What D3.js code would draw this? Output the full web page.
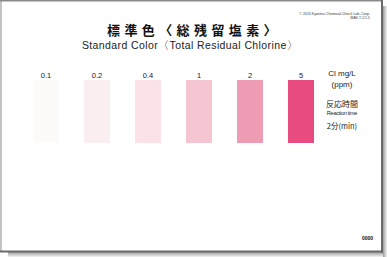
<!DOCTYPE html>
<html>
<head>
<meta charset="utf-8">
<script src="https://cdn.jsdelivr.net/npm/d3@7"></script>
<style>
  body { margin: 0; background: #fff; }
  svg { display: block; }
</style>
</head>
<body>
<svg id="chart" width="387" height="257"></svg>
<script>
// standard colour chart values
const levels = ['0.1', '0.2', '0.4', '1', '2', '5'];
const swatchColors = ['#fdfafa', '#fbeef1', '#fae2e8', '#f5c5d1', '#ee9cb4', '#e84b80'];
const unitLines = ['Cl mg/L', '(ppm)'];
const timeLines = ['反応時間', 'Reaction time', '2分(min)'];

const svg = d3.select('#chart');
const W = 387, H = 257;

// card shadow + border
const defs = svg.append('defs');
const gb = defs.append('linearGradient').attr('id', 'shB').attr('x1', 0).attr('y1', 0).attr('x2', 0).attr('y2', 1);
gb.append('stop').attr('offset', 0).attr('stop-color', '#9a9a9a');
gb.append('stop').attr('offset', 1).attr('stop-color', '#f4f4f4');
const gr = defs.append('linearGradient').attr('id', 'shR').attr('x1', 0).attr('y1', 0).attr('x2', 1).attr('y2', 0);
gr.append('stop').attr('offset', 0).attr('stop-color', '#9a9a9a');
gr.append('stop').attr('offset', 1).attr('stop-color', '#f4f4f4');

svg.append('rect').attr('width', W).attr('height', H).attr('fill', '#fff');
svg.append('rect').attr('x', 8).attr('y', 252).attr('width', 379).attr('height', 5).attr('fill', 'url(#shB)');
svg.append('rect').attr('x', 383).attr('y', 6).attr('width', 4).attr('height', 251).attr('fill', 'url(#shR)');
svg.append('rect').attr('x', 0).attr('y', 0).attr('width', 2).attr('height', 252).attr('fill', '#c4c4c4');
svg.append('rect').attr('x', 0).attr('y', 0).attr('width', 383).attr('height', 1.5).attr('fill', '#8a8a8a');
svg.append('rect').attr('x', 381).attr('y', 0).attr('width', 2).attr('height', 253).attr('fill', '#6a6a6a');
svg.append('rect').attr('x', 0).attr('y', 250.5).attr('width', 383).attr('height', 2).attr('fill', '#6a6a6a');

// titles
svg.append('text').attr('x', 194).attr('y', 35).attr('text-anchor', 'middle')
  .attr('font-family', 'Noto Sans CJK JP').attr('font-weight', 'bold').attr('font-size', 13)
  .attr('letter-spacing', 4.4).attr('fill', '#111')
  .text('標準色〈総残留塩素〉');
svg.append('text').attr('x', 190).attr('y', 48.5).attr('text-anchor', 'middle')
  .attr('font-family', 'Liberation Sans, Arial').attr('font-size', 10.5).attr('fill', '#222')
  .attr('letter-spacing', 0.4)
  .text('Standard Color〈Total Residual Chlorine〉');

svg.append('text').attr('x', 370).attr('y', 14.5).attr('text-anchor', 'end')
  .attr('font-family', 'Liberation Sans').attr('font-size', 3.6).attr('fill', '#333')
  .text('© 2015 Kyoritsu Chemical-Check Lab.,Corp.');
svg.append('text').attr('x', 370).attr('y', 18.5).attr('text-anchor', 'end')
  .attr('font-family', 'Liberation Sans').attr('font-size', 3.4).attr('fill', '#333')
  .text('WAK-T-CC-5');

// swatches
const x = d3.scaleBand().domain(levels).range([33, 314]).paddingInner(0.49).paddingOuter(0);
const y = d3.scaleLinear().domain([0, 1]).range([143, 80]);

svg.selectAll('rect.sw').data(levels).join('rect')
  .attr('class', 'sw')
  .attr('x', d => x(d))
  .attr('y', y(1))
  .attr('width', x.bandwidth())
  .attr('height', y(0) - y(1))
  .attr('fill', (d, i) => swatchColors[i]);

svg.selectAll('text.lv').data(levels).join('text')
  .attr('class', 'lv')
  .attr('x', d => x(d) + x.bandwidth() / 2)
  .attr('y', 77.5)
  .attr('text-anchor', 'middle')
  .attr('font-family', 'Liberation Sans').attr('font-size', 7.5).attr('fill', '#222')
  .text(d => d);

// side notes
svg.selectAll('text.unit').data(unitLines).join('text')
  .attr('class', 'unit')
  .attr('x', 342).attr('y', (d, i) => 76 + i * 10.5)
  .attr('text-anchor', 'middle')
  .attr('font-family', 'Liberation Sans').attr('font-size', 8).attr('fill', '#222')
  .text(d => d);

const tSizes = [8, 5.6, 7.5];
const tY = [107, 115, 129];
svg.selectAll('text.tm').data(timeLines).join('text')
  .attr('class', 'tm')
  .attr('x', 342).attr('y', (d, i) => tY[i])
  .attr('text-anchor', 'middle')
  .attr('font-family', (d, i) => i === 1 ? 'Liberation Sans' : 'Noto Sans CJK JP')
  .attr('font-size', (d, i) => tSizes[i]).attr('fill', '#222')
  .attr('letter-spacing', (d, i) => i === 1 ? -0.3 : 0)
  .text(d => d);

svg.append('text').attr('x', 373).attr('y', 240).attr('text-anchor', 'end')
  .attr('font-family', 'Liberation Sans').attr('font-weight', 'bold').attr('font-size', 5).attr('fill', '#111')
  .text('0000');
</script>
</body>
</html>
